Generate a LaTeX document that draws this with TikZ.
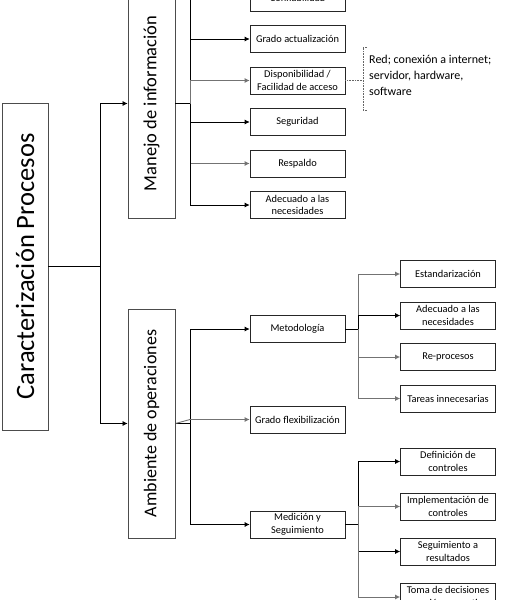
\documentclass[tikz,border=0pt]{standalone}
\usepackage{fontspec}
\setmainfont{Carlito}
\usetikzlibrary{arrows.meta}
\begin{document}
\begin{tikzpicture}[x=1pt,y=-1pt,
  box/.style={draw=black!85, line width=0.7pt, minimum width=95pt, minimum height=27pt, inner sep=0pt, align=center, font=\fontsize{10.4}{12.6}\selectfont},
  vbox/.style={draw=black!70, line width=0.8pt, minimum height=47pt, inner sep=0pt, rotate=90, anchor=center},
  ln/.style={line width=0.7pt, draw=black},
  gl/.style={line width=0.9pt, draw=black!55},
  arr/.style={-{Latex[length=5pt,width=5pt]}}]
\useasboundingbox (0,0) rectangle (524,600);
\clip (0,0) rectangle (524,600);
% main
\node[vbox, minimum width=327pt, minimum height=46pt, font=\fontsize{26.5}{30}\selectfont] (cp) at (25,266.5) {Caracterización Procesos};
\node[vbox, minimum width=229pt, font=\fontsize{18.5}{22}\selectfont] (mi) at (151.5,103.5) {Manejo de información};
\node[vbox, minimum width=229pt, font=\fontsize{18}{21}\selectfont] (ao) at (151.5,423.5) {Ambiente de operaciones};
\coordinate (j0) at (100,266.5);
\draw[ln] (cp.south) -- (j0);
\draw[ln,arr] (j0) |- (mi);
\draw[ln,arr] (j0) |- (ao);
% Manejo de informacion children
\node[box] (m1) at (297.5,-2.5) {Confiabilidad};
\node[box] (m2) at (297.5,39) {Grado actualización};
\node[box] (m3) at (297.5,80.5) {Disponibilidad /\\Facilidad de acceso};
\node[box] (m4) at (297.5,122) {Seguridad};
\node[box] (m5) at (297.5,163.5) {Respaldo};
\node[box] (m6) at (297.5,205) {Adecuado a las\\necesidades};
\coordinate (j1) at (190,103.5);
\draw[ln] (mi.south) -- (j1);
\draw[ln,arr] (j1) |- (m1);
\draw[ln,arr] (j1) |- (m2);
\draw[gl,arr] (j1) |- (m3);
\draw[ln,arr] (j1) |- (m4);
\draw[gl,arr] (j1) |- (m5);
\draw[ln,arr] (j1) |- (m6);
% annotation
\coordinate (a1) at (363,80.5);
\draw[densely dotted, black!60, line width=0.6pt] (m3.east) -- (a1);
\draw[densely dotted, black!60, line width=0.6pt] (367,47) -- (363,47) -- (363,110) -- (367,110);
\node[anchor=north west, inner sep=0pt, align=left, font=\fontsize{12}{16}\selectfont] (an) at (369,55) {Red; conexión a internet;\\servidor, hardware,\\software};
% Ambiente children
\node[box] (o1) at (297.5,329) {Metodología};
\node[box] (o2) at (297.5,419.5) {Grado flexibilización};
\node[box] (o3) at (297.5,524.5) {Medición y\\Seguimiento};
\coordinate (j2) at (190,423.5);
\draw[ln] (ao.south) -- (j2);
\draw[ln,arr] (j2) |- (o1);
\draw[gl,arr] (ao.south) -- (j2 |- o2) -- (o2);
\draw[ln,arr] (j2) |- (o3);
% Metodologia children
\node[box] (t1) at (448,274) {Estandarización};
\node[box] (t2) at (448,315.5) {Adecuado a las\\necesidades};
\node[box] (t3) at (448,357) {Re-procesos};
\node[box] (t4) at (448,398.5) {Tareas innecesarias};
\coordinate (j3) at (358,329);
\draw[ln] (o1.east) -- (j3);
\draw[gl,arr] (j3) |- (t1);
\draw[ln,arr] (j3) |- (t2);
\draw[gl,arr] (j3) |- (t3);
\draw[gl,arr] (j3) |- (t4);
% Medicion children
\node[box] (s1) at (448,461.5) {Definición de\\controles};
\node[box] (s2) at (448,506.5) {Implementación de\\controles};
\node[box] (s3) at (448,551.5) {Seguimiento a\\resultados};
\node[box] (s4) at (448,597) {Toma de decisiones\\y acción correctiva};
\coordinate (j4) at (358,524.5);
\draw[ln] (o3.east) -- (j4);
\draw[ln,arr] (j4) |- (s1);
\draw[gl,arr] (j4) |- (s2);
\draw[ln,arr] (j4) |- (s3);
\draw[gl,arr] (j4) |- (s4);
\end{tikzpicture}
\end{document}
